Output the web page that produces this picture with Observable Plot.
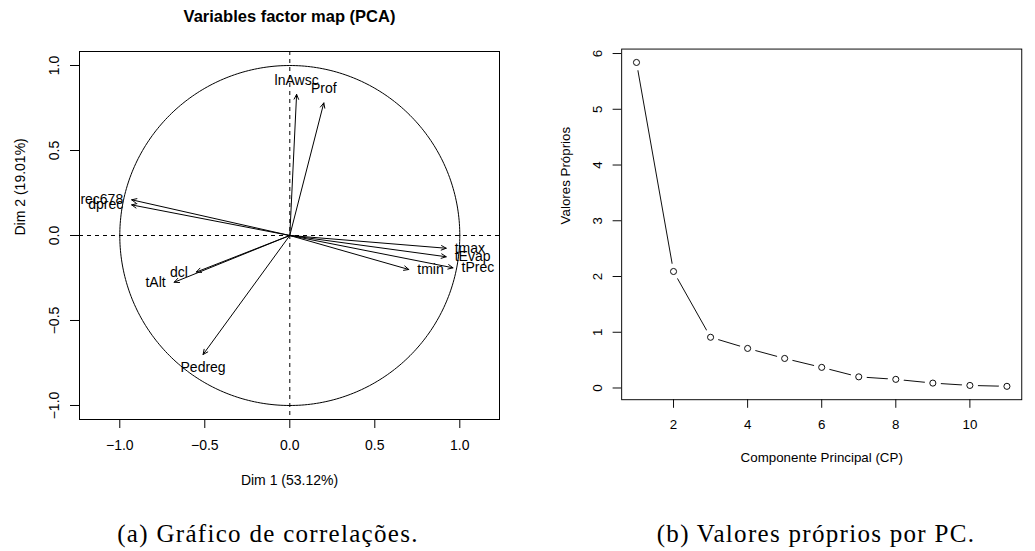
<!DOCTYPE html>
<html><head><meta charset="utf-8">
<script src="https://cdn.jsdelivr.net/npm/d3@7"></script>
<script src="https://cdn.jsdelivr.net/npm/@observablehq/plot@0.6"></script>
<style>
html,body{margin:0;padding:0;background:#fff;}
#fig{position:relative;width:1035px;height:551px;overflow:hidden;background:#fff;}
#left{position:absolute;left:0;top:0;}
#right{position:absolute;left:530px;top:0;}
#caps{position:absolute;left:0;top:500px;}
</style></head><body>
<div id="fig"><div id="left"></div><div id="right"></div><div id="caps"></div></div>
<script>
// ---- Data: variables factor map (PCA) ----
const varNames = ["lnAwsc", "Prof", "rec678", "dprec", "tmax", "tEvap", "tPrec", "tmin", "dcl", "tAlt", "Pedreg"];
const dim1 = [0.04, 0.20, -0.93, -0.93, 0.92, 0.92, 0.96, 0.70, -0.55, -0.68, -0.51];
const dim2 = [0.83, 0.78, 0.21, 0.18, -0.075, -0.125, -0.19, -0.20, -0.215, -0.275, -0.70];
const ticksA = [-1, -0.5, 0, 0.5, 1];
const titleA = "Variables factor map (PCA)";
const xLabelA = "Dim 1 (53.12%)";
const yLabelA = "Dim 2 (19.01%)";

// ---- Data: eigenvalues per component ----
const components = [1, 2, 3, 4, 5, 6, 7, 8, 9, 10, 11];
const eigenvalues = [5.84, 2.09, 0.91, 0.71, 0.53, 0.37, 0.20, 0.155, 0.088, 0.046, 0.03];
const xTicksB = [2, 4, 6, 8, 10];
const yTicksB = [0, 1, 2, 3, 4, 5, 6];
const xLabelB = "Componente Principal (CP)";
const yLabelB = "Valores Próprios";

const captions = ["(a) Gráfico de correlações.", "(b) Valores próprios por PC."];

const font = "'Liberation Sans', Arial, Helvetica, sans-serif";
const baseStyle = {fontFamily: font, fontSize: "14px", color: "black", background: "white", overflow: "visible"};

const vars = varNames.map((name, i) => ({name, x: dim1[i], y: dim2[i]}));
const side = d => Math.abs(d.x) > Math.abs(d.y) ? (d.x < 0 ? "left" : "right") : (d.y > 0 ? "top" : "bottom");
const unitCircle = d3.range(0, 361, 1).map(a => ({x: Math.cos(a * Math.PI / 180), y: Math.sin(a * Math.PI / 180)}));
const fmt1 = d3.format(".1f");
const fmt0 = d3.format("d");

const left = Plot.plot({
  width: 530, height: 500,
  marginLeft: 79, marginRight: 31, marginTop: 51, marginBottom: 81,
  x: {domain: [-1.237, 1.2335], label: null},
  y: {domain: [-1.0824, 1.0824], label: null},
  style: baseStyle,
  marks: [
    Plot.line(unitCircle, {x: "x", y: "y", stroke: "black", strokeWidth: 1}),
    Plot.ruleX([0], {stroke: "black", strokeWidth: 1, strokeDasharray: "4,4"}),
    Plot.ruleY([0], {stroke: "black", strokeWidth: 1, strokeDasharray: "4,4"}),
    Plot.arrow(vars, {x1: d => 0, y1: d => 0, x2: "x", y2: "y", stroke: "black", strokeWidth: 1, headLength: 8, headAngle: 50}),
    Plot.text(vars.filter(d => side(d) === "left"), {x: "x", y: "y", text: "name", textAnchor: "end", dx: -8.5, fill: "black"}),
    Plot.text(vars.filter(d => side(d) === "right"), {x: "x", y: "y", text: "name", textAnchor: "start", dx: 8.5, fill: "black"}),
    Plot.text(vars.filter(d => side(d) === "top"), {x: "x", y: "y", text: "name", dy: -14, fill: "black"}),
    Plot.text(vars.filter(d => side(d) === "bottom"), {x: "x", y: "y", text: "name", dy: 13.5, fill: "black"}),
    Plot.frame({stroke: "black", strokeWidth: 1}),
    Plot.axisX(ticksA, {tickSize: 9, tickPadding: 12, tickFormat: fmt1, label: null, stroke: "black", fill: "black"}),
    Plot.axisY(ticksA, {tickSize: 9, tickPadding: 12, tickRotate: -90, tickFormat: fmt1, label: null, stroke: "black", fill: "black"}),
    Plot.text([titleA], {frameAnchor: "top", dy: -29.3, lineAnchor: "bottom", fontWeight: "bold", fontSize: 16.5, fill: "black"}),
    Plot.text([xLabelA], {frameAnchor: "bottom", dy: 65.7, lineAnchor: "bottom", fill: "black"}),
    Plot.text([yLabelA], {frameAnchor: "left", dx: -54.5, rotate: -90, lineAnchor: "bottom", fill: "black"})
  ]
});
document.getElementById("left").append(left);

const scree = components.map((c, i) => ({cp: c, v: eigenvalues[i]}));
const right = Plot.plot({
  width: 530, height: 500,
  marginLeft: 95.7, marginRight: 14.4, marginTop: 51, marginBottom: 81,
  x: {domain: [0.6, 11.4], label: null},
  y: {domain: [-0.21, 6.08], label: null},
  style: baseStyle,
  marks: [
    Plot.frame({stroke: "black", strokeWidth: 1}),
    Plot.line(scree, {x: "cp", y: "v", stroke: "black", strokeWidth: 1}),
    Plot.dot(scree, {x: "cp", y: "v", r: 8.5, fill: "white", stroke: null}),
    Plot.dot(scree, {x: "cp", y: "v", r: 3.2, fill: "white", stroke: "black", strokeWidth: 1}),
    Plot.axisX(xTicksB, {tickSize: 9, tickPadding: 12, tickFormat: fmt0, label: null, stroke: "black", fill: "black"}),
    Plot.axisY(yTicksB, {tickSize: 9, tickPadding: 12, tickRotate: -90, tickFormat: fmt0, label: null, stroke: "black", fill: "black"}),
    Plot.text([xLabelB], {frameAnchor: "bottom", dy: 65.7, lineAnchor: "bottom", fill: "black"}),
    Plot.text([yLabelB], {frameAnchor: "left", dx: -54.7, rotate: -90, lineAnchor: "bottom", fill: "black"})
  ]
});
document.getElementById("right").append(right);

// captions below the two charts
const capSvg = d3.create("svg").attr("width", 1035).attr("height", 51);
const capX = [268, 816];
capSvg.selectAll("text").data(captions).join("text")
  .attr("x", (d, i) => capX[i]).attr("y", 42)
  .attr("text-anchor", "middle")
  .attr("font-family", "'Liberation Serif', 'Times New Roman', serif")
  .attr("font-size", 25)
  .attr("letter-spacing", 1.3)
  .attr("fill", "black")
  .text(d => d);
document.getElementById("caps").append(capSvg.node());
</script>
</body></html>
